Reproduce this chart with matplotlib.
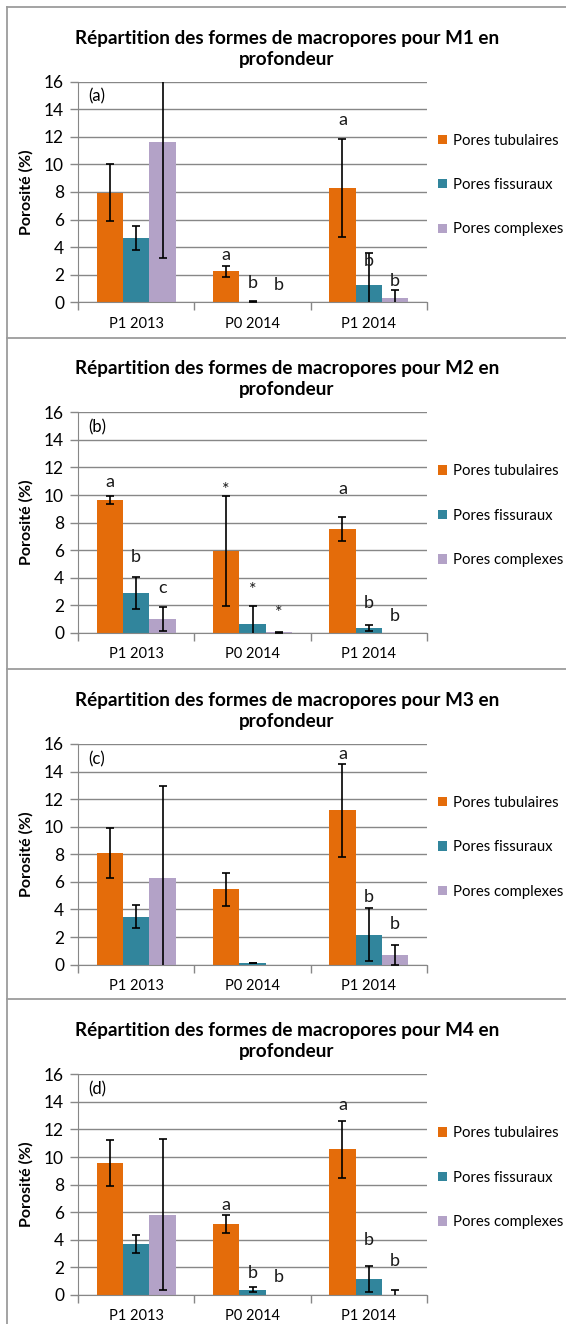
import numpy as np
import matplotlib
matplotlib.use('Agg')
import matplotlib.pyplot as plt
from matplotlib.lines import Line2D

plt.rcParams['font.family'] = ['Lato', 'DejaVu Sans']

# data
categories = ['P1 2013', 'P0 2014', 'P1 2014']
series = ['Pores tubulaires', 'Pores fissuraux', 'Pores complexes']
colors = ['#E46C0A', '#31859C', '#B3A2C7']
panels = ['M1', 'M2', 'M3', 'M4']
tags = ['(a)', '(b)', '(c)', '(d)']

tub_mean = [[7.95, 2.25, 8.3], [9.64, 5.93, 7.53], [8.1, 5.45, 11.19], [9.58, 5.14, 10.55]]
tub_err = [[2.05, 0.40, 3.58], [0.29, 4.00, 0.88], [1.83, 1.22, 3.38], [1.66, 0.63, 2.08]]
fis_mean = [[4.66, 0.05, 1.26], [2.90, 0.68, 0.36], [3.46, 0.12, 2.15], [3.70, 0.39, 1.16]]
fis_err = [[0.87, 0.03, 2.35], [1.17, 1.28, 0.20], [0.84, 0.02, 1.92], [0.65, 0.18, 0.92]]
com_mean = [[11.6, 0.0, 0.29], [1.02, 0.05, 0.0], [6.25, 0.0, 0.70], [5.82, 0.0, 0.02]]
com_err = [[8.4, 0.0, 0.61], [0.86, 0.03, 0.0], [6.68, 0.0, 0.75], [5.47, 0.0, 0.34]]

# significance letters: (category, series, y baseline, text)
letters = [
    [(1, 0, 3.07, 'a'), (1, 1, 1.04, 'b'), (1, 2, 0.90, 'b'),
     (2, 0, 12.85, 'a'), (2, 1, 2.66, 'b'), (2, 2, 1.21, 'b')],
    [(0, 0, 10.6, 'a'), (0, 1, 5.16, 'b'), (0, 2, 2.86, 'c'),
     (1, 0, 10.0, '*'), (1, 1, 2.76, '*'), (1, 2, 1.07, '*'),
     (2, 0, 10.05, 'a'), (2, 1, 1.77, 'b'), (2, 2, 0.87, 'b')],
    [(2, 0, 14.9, 'a'), (2, 1, 4.55, 'b'), (2, 2, 2.61, 'b')],
    [(1, 0, 6.13, 'a'), (1, 1, 1.21, 'b'), (1, 2, 0.92, 'b'),
     (2, 0, 13.4, 'a'), (2, 1, 3.59, 'b'), (2, 2, 2.13, 'b')],
]

W, H = 566, 1324
fig = plt.figure(figsize=(W / 100, H / 100), dpi=100)

grid_col = '#878787'
border_col = '#9C9C9C'
ax_left, ax_w, ax_h = 78, 349, 220.6
ax_tops = [81.7, 412.3, 744.0, 1074.3]
borders = [7, 338, 669, 999]

bar_w = 0.227
x = np.arange(len(categories))

for b in borders:
    fig.add_artist(Line2D([7 / W, 1], [1 - b / H, 1 - b / H], color=border_col, lw=1.3))
fig.add_artist(Line2D([7 / W, 7 / W], [1 - 7 / H, 0], color=border_col, lw=1.3))

for i, name in enumerate(panels):
    top = ax_tops[i]
    ax = fig.add_axes([ax_left / W, 1 - (top + ax_h) / H, ax_w / W, ax_h / H])
    means = [tub_mean[i], fis_mean[i], com_mean[i]]
    errs = [tub_err[i], fis_err[i], com_err[i]]
    handles = []
    for s in range(3):
        xs = x + (s - 1) * bar_w
        h = ax.bar(xs, means[s], bar_w, color=colors[s], label=series[s], zorder=2)
        handles.append(h)
        m = np.array(errs[s]) > 0
        ax.errorbar(xs[m], np.array(means[s])[m], yerr=np.array(errs[s])[m], fmt='none',
                    ecolor='black', elinewidth=1.2, capsize=2.7, capthick=1.2, zorder=3)
    for c, s, yb, t in letters[i]:
        ax.text(x[c] + (s - 1) * bar_w, yb, t, ha='center', va='baseline',
                fontsize=13, color='#1a1a1a', zorder=4)

    ax.set_xlim(-0.5, 2.5)
    ax.set_ylim(0, 16)
    ax.set_yticks(range(0, 17, 2))
    ax.yaxis.grid(True, color=grid_col, lw=1.0, zorder=0)
    ax.set_axisbelow(True)
    ax.set_xticks(x)
    ax.set_xticklabels(categories, fontsize=10.5)
    ax.set_xticks([-0.5, 0.5, 1.5, 2.5], minor=True)
    ax.tick_params(axis='x', which='major', length=0, pad=10.5)
    ax.tick_params(axis='x', which='minor', length=6, color=grid_col, width=1.0)
    ax.tick_params(axis='y', length=6, color=grid_col, width=1.0, labelsize=12.5, pad=4)
    for sp in ['top', 'right']:
        ax.spines[sp].set_visible(False)
    ax.spines['left'].set_color(grid_col)
    ax.spines['bottom'].set_color(grid_col)
    ax.set_ylabel('Porosité (%)', fontsize=11.5, fontweight='bold')
    ax.yaxis.set_label_coords(-0.128, 0.5)
    ax.text(0.029, 14.9, tags[i], fontsize=12, va='center', ha='left',
            transform=ax.get_yaxis_transform())

    ax.legend(handles=handles, loc='upper left', bbox_to_anchor=(1.032, 0.765),
              frameon=False, fontsize=10.7, handlelength=0.6, handleheight=0.6,
              handletextpad=0.4, labelspacing=2.05, borderpad=0, borderaxespad=0)

    fig.text(287 / W, 1 - (top - 33) / H,
             'Répartition des formes de macropores pour %s en\nprofondeur' % name,
             ha='center', va='center', fontsize=13.6, fontweight='bold',
             linespacing=1.3)

fig.savefig('out.png', dpi=100)
